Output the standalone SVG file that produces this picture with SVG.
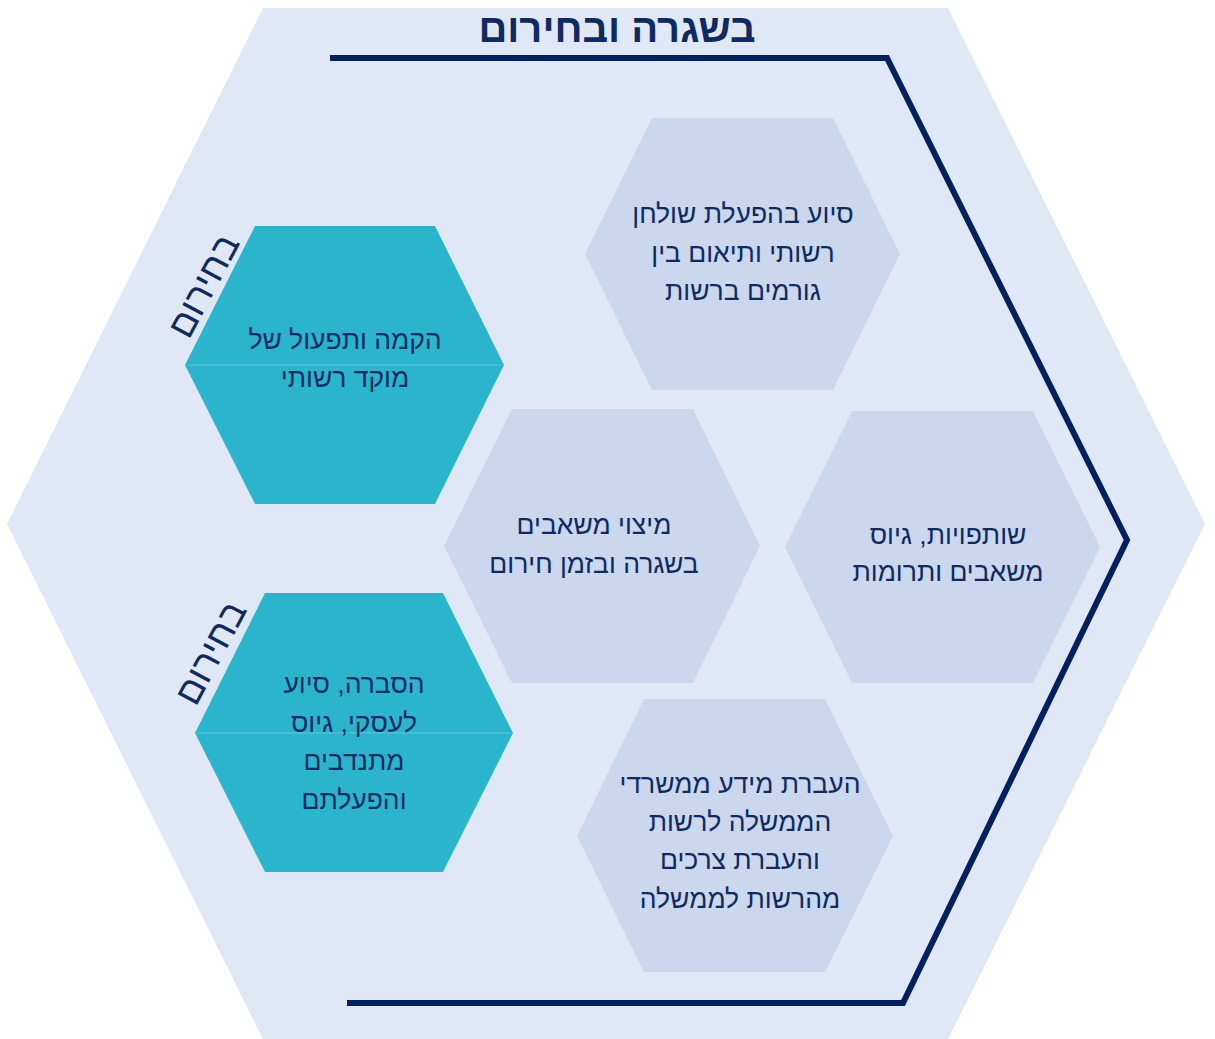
<svg xmlns="http://www.w3.org/2000/svg" width="1215" height="1039" viewBox="0 0 1215 1039">
<style>
.t{font-family:"Liberation Sans","DejaVu Sans",sans-serif;font-size:26.5px;fill:#0E2A62;text-anchor:middle;direction:rtl}
.lab{font-family:"Liberation Sans","DejaVu Sans",sans-serif;font-size:37px;fill:#0E2A62;text-anchor:middle;direction:rtl}
.title{font-family:"Liberation Sans","DejaVu Sans",sans-serif;font-size:40px;font-weight:bold;fill:#0E2A62;text-anchor:middle;direction:rtl}
.lt{fill:#CAD7EC}
.tl{fill:#2BB5CD}
.seam{stroke:#4CC2D6;stroke-width:1.5}
</style>
<rect width="1215" height="1039" fill="#FFFFFF"/>
<g id="background">
<polygon points="263,8 948,8 1205,524 948,1039 263,1039 7,524" fill="#E1E8F5"/>
</g>
<g id="title">
<text class="title" x="617" y="42">בשגרה ובחירום</text>
</g>
<g id="connectors">
<polyline points="330,58 887,58 1127,540 903,1003 347,1003" fill="none" stroke="#00205F" stroke-width="6"/>
</g>
<g id="hex-table">
<polygon class="lt" points="652,118 833,118 900,254 833,390 652,390 585,254"/>
<text class="t" x="743" y="223">סיוע בהפעלת שולחן</text>
<text class="t" x="743" y="262">רשותי ותיאום בין</text>
<text class="t" x="743" y="300">גורמים ברשות</text>
</g>
<g id="hex-partnerships">
<polygon class="lt" points="852,411 1033,411 1100,547 1033,683 852,683 785,547"/>
<text class="t" x="948" y="544">שותפויות, גיוס</text>
<text class="t" x="948" y="581">משאבים ותרומות</text>
</g>
<g id="hex-resources">
<polygon class="lt" points="512,409 693,409 760,546 693,683 512,683 444,546"/>
<text class="t" x="594" y="534">מיצוי משאבים</text>
<text class="t" x="594" y="573">בשגרה ובזמן חירום</text>
</g>
<g id="hex-info">
<polygon class="lt" points="644,699 825,699 893,836 825,972 644,972 577,836"/>
<text class="t" x="740" y="793">העברת מידע ממשרדי</text>
<text class="t" x="740" y="831">הממשלה לרשות</text>
<text class="t" x="740" y="869">והעברת צרכים</text>
<text class="t" x="740" y="908">מהרשות לממשלה</text>
</g>
<g id="hex-call-center">
<polygon class="tl" points="255,226 435,226 504,365 435,504 255,504 185,365"/>
<line class="seam" x1="187" y1="365" x2="502" y2="365"/>
<text class="t" x="345" y="349">הקמה ותפעול של</text>
<text class="t" x="345" y="387">מוקד רשותי</text>
<text class="lab" transform="translate(204,286) rotate(-62)" x="0" y="12">בחירום</text>
</g>
<g id="hex-volunteers">
<polygon class="tl" points="265,593 443,593 513,733 443,872 265,872 195,733"/>
<line class="seam" x1="197" y1="733" x2="511" y2="733"/>
<text class="t" x="354" y="693">הסברה, סיוע</text>
<text class="t" x="354" y="732">לעסקי, גיוס</text>
<text class="t" x="354" y="770">מתנדבים</text>
<text class="t" x="354" y="809">והפעלתם</text>
<text class="lab" transform="translate(211,653) rotate(-62)" x="0" y="12">בחירום</text>
</g>
</svg>
